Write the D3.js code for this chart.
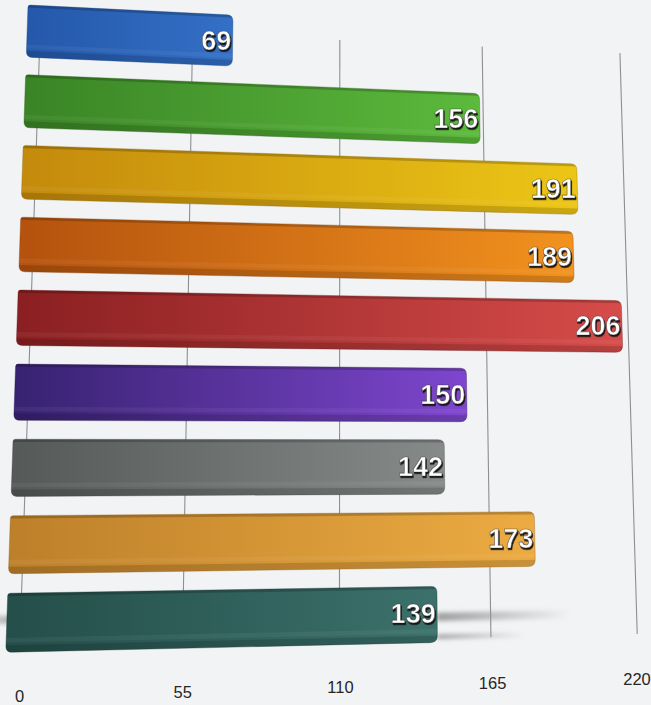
<!DOCTYPE html>
<html>
<head>
<meta charset="utf-8">
<script src="https://cdn.jsdelivr.net/npm/d3@7"></script>
<style>
  html, body { margin: 0; padding: 0; background: #f2f3f5; }
  svg { display: block; }
</style>
</head>
<body>
<svg id="chart" width="651" height="705"></svg>
<script>
// chart data
const categories = ['Blue', 'Green', 'Yellow', 'Orange', 'Red', 'Purple', 'Gray', 'Tan', 'Teal'];
const values = [69, 156, 191, 189, 206, 150, 142, 173, 139];
const darkColors = ['#2458aa', '#3a8426', '#c48a0c', '#b4520e', '#8a1f21', '#372270', '#555958', '#bd802a', '#244e4a'];
const lightColors = ['#3470c6', '#5cba3c', '#ecc616', '#f2921e', '#d64c4a', '#7e46ce', '#868a89', '#ecab42', '#3c716b'];
const ticks = [0, 55, 110, 165, 220];

const svg = d3.select('#chart');
const defs = svg.append('defs');

const x = d3.scaleLinear().domain([0, 220]).range([0, 1]);
const y = d3.scaleBand().domain(categories).range([0, 1]).paddingInner(0.25).paddingOuter(0);
const bw = y.bandwidth();

// perspective planes: origin + two vanishing points, projective weights a (along x) and b (along y)
let plane = (o, vx, vy, a, b) => (u, v) => {
  let p = a * u, q = b * v, d = 1 + p + q;
  return [(o[0] + p * vx[0] + q * vy[0]) / d, (o[1] + p * vx[1] + q * vy[1]) / d];
};
const VPX = [9000, 448], VPY = [345, -9200];
const barPlane = plane([28, 5], VPX, VPY, 0.07456, -0.0657);
const gridPlane = plane([40.3, 25.8], VPX, VPY, 0.06917, -0.06316);

// quad in a plane from u0..u1, v0..v1
let quad = (pl, u0, u1, v0, v1) => [pl(u0, v0), pl(u1, v0), pl(u1, v1), pl(u0, v1)];
let poly = pts => 'M' + pts.map(p => p.join(',')).join('L') + 'Z';

// polygon with rounded corners, radii per corner
let roundedPath = (pts, radii) => {
  let n = pts.length, path = '';
  for (let i = 0; i < n; i++) {
    let c = pts[i], prev = pts[(i + n - 1) % n], next = pts[(i + 1) % n];
    let r = radii[i];
    let d1 = Math.hypot(prev[0] - c[0], prev[1] - c[1]);
    let d2 = Math.hypot(next[0] - c[0], next[1] - c[1]);
    let a = [c[0] + (prev[0] - c[0]) * r / d1, c[1] + (prev[1] - c[1]) * r / d1];
    let b = [c[0] + (next[0] - c[0]) * r / d2, c[1] + (next[1] - c[1]) * r / d2];
    path += (i === 0 ? 'M' : 'L') + a.join(',') + 'Q' + c.join(',') + ' ' + b.join(',');
  }
  return path + 'Z';
};

// blur for the floor shadows
defs.append('filter').attr('id', 'blur').attr('x', '-20%').attr('y', '-100%').attr('width', '140%').attr('height', '300%')
  .append('feGaussianBlur').attr('stdDeviation', 2.2);

// embossed look of the value labels
defs.append('filter').attr('id', 'emboss').attr('x', '-20%').attr('y', '-30%').attr('width', '140%').attr('height', '170%')
  .append('feDropShadow')
  .attr('dx', 1).attr('dy', 1.8).attr('stdDeviation', 0.7)
  .attr('flood-color', '#111').attr('flood-opacity', 0.95);

let fade = defs.append('linearGradient').attr('id', 'fade');
fade.append('stop').attr('offset', 0).attr('stop-color', '#8e8e8e').attr('stop-opacity', 0.85);
fade.append('stop').attr('offset', 1).attr('stop-color', '#8e8e8e').attr('stop-opacity', 0);
let fadeL = defs.append('linearGradient').attr('id', 'fadeL');
fadeL.append('stop').attr('offset', 0).attr('stop-color', '#9a9a9a').attr('stop-opacity', 0);
fadeL.append('stop').attr('offset', 1).attr('stop-color', '#9a9a9a').attr('stop-opacity', 0.8);

// shadow streaks beside the last bar
const last = categories[categories.length - 1];
const lastVal = values[values.length - 1];
let y9 = y(last);
let shadows = svg.append('g').attr('filter', 'url(#blur)');
shadows.append('path')
  .attr('d', poly(quad(barPlane, x(lastVal), x(lastVal + 46), y9 + bw * 0.47, y9 + bw * 0.62)))
  .attr('fill', 'url(#fade)');
shadows.append('path')
  .attr('d', poly(quad(barPlane, x(lastVal), x(lastVal + 30), y9 + bw * 0.86, y9 + bw * 0.94)))
  .attr('fill', 'url(#fade)');
shadows.append('path')
  .attr('d', poly(quad(barPlane, x(-12), x(2), y9 + bw * 0.38, y9 + bw * 0.52)))
  .attr('fill', 'url(#fadeL)');

// grid lines
svg.append('g')
  .selectAll('line')
  .data(ticks)
  .join('line')
  .attr('x1', d => gridPlane(x(d), 0)[0])
  .attr('y1', d => gridPlane(x(d), 0)[1])
  .attr('x2', d => gridPlane(x(d), 1)[0])
  .attr('y2', d => gridPlane(x(d), 1)[1])
  .attr('stroke', '#8d8f91')
  .attr('stroke-width', 1.1);

// axis labels
svg.append('g')
  .selectAll('text')
  .data(ticks)
  .join('text')
  .attr('x', d => gridPlane(x(d), 1.071)[0] + (d === 0 ? 1.5 : d === 220 ? -1.5 : 1))
  .attr('y', d => gridPlane(x(d), 1.071)[1] + 1)
  .attr('text-anchor', 'middle')
  .attr('dominant-baseline', 'central')
  .attr('font-family', '"Liberation Sans", Arial, sans-serif')
  .attr('font-size', 16.5)
  .attr('fill', '#262626')
  .text(d => d);

// bars
const bars = svg.append('g');
categories.forEach((c, i) => {
  let v0 = y(c), v1 = v0 + bw, u1 = x(values[i]);
  let corners = quad(barPlane, 0, u1, v0, v1);
  let d = roundedPath(corners, [2.5, 6, 7, 6]);

  let grad = defs.append('linearGradient').attr('id', 'g' + i);
  grad.append('stop').attr('offset', 0).attr('stop-color', darkColors[i]);
  grad.append('stop').attr('offset', 1).attr('stop-color', lightColors[i]);

  defs.append('clipPath').attr('id', 'clip' + i).append('path').attr('d', d);

  let g = bars.append('g');
  g.append('path').attr('d', d).attr('fill', `url(#g${i})`);

  let inner = g.append('g').attr('clip-path', `url(#clip${i})`);
  // top edge
  inner.append('path').attr('d', poly(quad(barPlane, -1, u1 + 0.1, v0, v0 + bw * 0.05)))
    .attr('fill', '#000').attr('opacity', 0.2);
  // faint ridge near the bottom
  inner.append('path').attr('d', poly(quad(barPlane, -1, u1 + 0.1, v0 + bw * 0.76, v0 + bw * 0.84)))
    .attr('fill', '#fff').attr('opacity', 0.05);
  // bottom lip
  inner.append('path').attr('d', poly(quad(barPlane, -1, u1 + 0.1, v0 + bw * 0.88, v1 + 0.01)))
    .attr('fill', '#000').attr('opacity', 0.15);

  g.append('path').attr('d', d)
    .attr('fill', 'none')
    .attr('stroke', d3.color(darkColors[i]).darker(0.8))
    .attr('stroke-opacity', 0.45)
    .attr('stroke-width', 0.8);

  // value label
  let p = barPlane(u1, v0 + bw * 0.5);
  bars.append('text')
    .attr('x', p[0] - 1.5).attr('y', p[1])
    .attr('font-family', '"Liberation Sans", Arial, sans-serif')
    .attr('font-weight', 'bold')
    .attr('font-size', 27)
    .attr('text-anchor', 'end')
    .attr('dominant-baseline', 'central')
    .attr('fill', '#ffffff')
    .attr('stroke', '#333')
    .attr('stroke-width', 0.7)
    .attr('stroke-opacity', 0.7)
    .attr('filter', 'url(#emboss)')
    .text(values[i]);
});
</script>
</body>
</html>
